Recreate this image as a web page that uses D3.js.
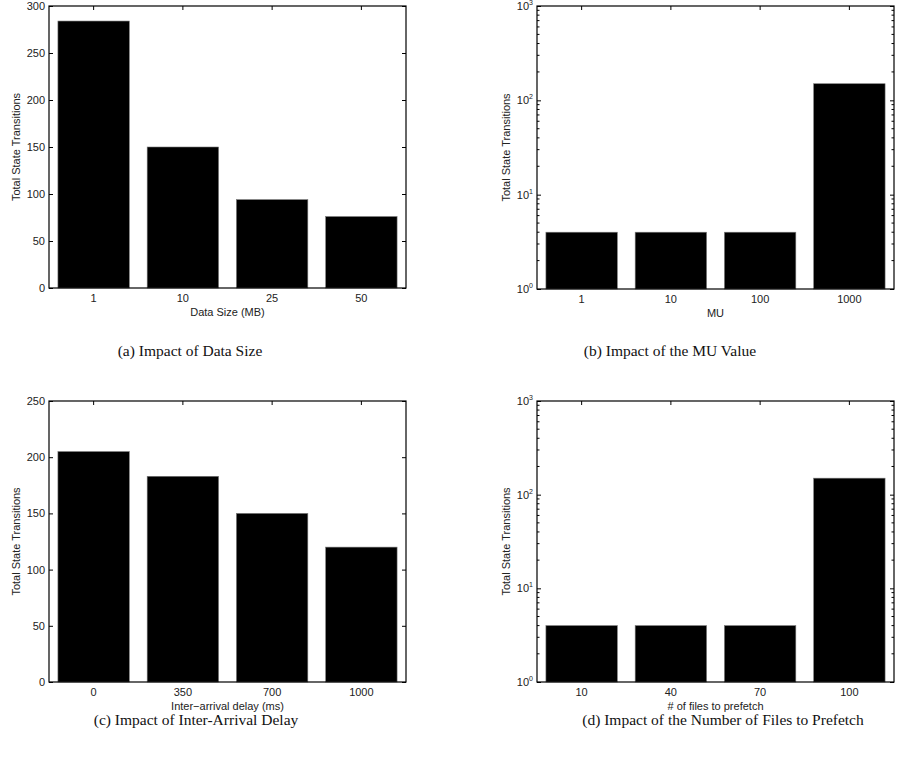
<!DOCTYPE html>
<html>
<head>
<meta charset="utf-8">
<script src="https://cdn.jsdelivr.net/npm/d3@7"></script>
<style>
  body { margin: 0; background: #fff; }
  svg { display: block; }
  .lbl { font-family: "Liberation Sans", Arial, sans-serif; font-size: 11px; fill: #222; }
  .cap { font-family: "Liberation Serif", "Times New Roman", serif; font-size: 15.5px; fill: #111; }
</style>
</head>
<body>
<svg id="chart" width="902" height="761"></svg>
<script>
// ---- data
const sizeCats = ['1', '10', '25', '50']
const sizeVals = [284, 150, 94, 76]

const muCats = ['1', '10', '100', '1000']
const muVals = [4, 4, 4, 150]

const delayCats = ['0', '350', '700', '1000']
const delayVals = [205, 183, 150, 120]

const fileCats = ['10', '40', '70', '100']
const fileVals = [4, 4, 4, 150]

const linTicksA = [0, 50, 100, 150, 200, 250, 300]
const linTicksC = [0, 50, 100, 150, 200, 250]
const logTicks = [1, 10, 100, 1000]

const panels = [
    {cats: sizeCats, vals: sizeVals, log: false, max: 300, ticks: linTicksA,
     x0: 49, x1: 406, y0: 6, y1: 288, ylabX: 16, xlab: 'Data Size (MB)',
     cap: '(a) Impact of Data Size', capX: 190, capY: 356},
    {cats: muCats, vals: muVals, log: true, max: 1000, ticks: logTicks,
     x0: 537, x1: 894, y0: 6, y1: 289, ylabX: 506, xlab: 'MU',
     cap: '(b) Impact of the MU Value', capX: 670, capY: 356},
    {cats: delayCats, vals: delayVals, log: false, max: 250, ticks: linTicksC,
     x0: 49, x1: 406, y0: 401, y1: 682, ylabX: 16, xlab: 'Inter\u2212arrival delay (ms)',
     cap: '(c) Impact of Inter-Arrival Delay', capX: 196, capY: 725},
    {cats: fileCats, vals: fileVals, log: true, max: 1000, ticks: logTicks,
     x0: 537, x1: 894, y0: 401, y1: 682, ylabX: 506, xlab: '# of files to prefetch',
     cap: '(d) Impact of the Number of Files to Prefetch', capX: 723, capY: 725}
]

const svg = d3.select('#chart')

panels.forEach(p => drawPanel(p))

function drawPanel(p) {
    const g = svg.append('g')

    const x = d3.scaleBand()
        .domain(p.cats)
        .range([p.x0, p.x1])
        .paddingInner(0.2)
        .paddingOuter(0.1)

    let y
    if (p.log) {
        y = d3.scaleLog().domain([1, p.max]).range([p.y1, p.y0])
    } else {
        y = d3.scaleLinear().domain([0, p.max]).range([p.y1, p.y0])
    }
    const base = p.log ? 1 : 0

    // bars
    g.selectAll('rect.bar')
        .data(p.vals)
        .enter()
        .append('rect')
        .attr('class', 'bar')
        .attr('x', (d, i) => x(p.cats[i]))
        .attr('width', x.bandwidth())
        .attr('y', d => y(d))
        .attr('height', d => y(base) - y(d))
        .attr('fill', '#000')
        .attr('stroke', '#777')
        .attr('stroke-width', 0.6)

    // minor ticks for log axes (2..9 per decade)
    let minors = []
    if (p.log) {
        for (let e = 1; e < p.max; e *= 10)
            for (let k = 2; k < 10; k++) minors.push(e * k)
    }

    // left / right axes, ticks pointing in
    const left = g.append('g')
        .attr('transform', `translate(${p.x0},0)`)
        .call(d3.axisLeft(y).tickValues(p.ticks).tickSize(-4).tickFormat(''))
    left.select('.domain').remove()

    const right = g.append('g')
        .attr('transform', `translate(${p.x1},0)`)
        .call(d3.axisRight(y).tickValues(p.ticks).tickSize(-4).tickFormat(''))
    right.select('.domain').remove()

    if (p.log) {
        [p.x0, p.x1].forEach((xx, side) => {
            g.selectAll(null)
                .data(minors)
                .enter()
                .append('line')
                .attr('x1', xx)
                .attr('x2', side ? xx - 2.5 : xx + 2.5)
                .attr('y1', d => y(d))
                .attr('y2', d => y(d))
                .attr('stroke', '#000')
                .attr('stroke-width', 1)
        })
    }

    // y tick labels
    const yl = g.append('g')
    p.ticks.forEach(t => {
        if (p.log) {
            const txt = yl.append('text')
                .attr('class', 'lbl')
                .attr('x', p.x0 - 4)
                .attr('y', y(t) + 4)
                .attr('text-anchor', 'end')
            txt.append('tspan').text('10')
            txt.append('tspan')
                .attr('dy', -5)
                .style('font-size', '7px')
                .text(Math.round(Math.log10(t)))
        } else {
            yl.append('text')
                .attr('class', 'lbl')
                .attr('x', p.x0 - 4)
                .attr('y', y(t) + 4)
                .attr('text-anchor', 'end')
                .text(t)
        }
    })

    // top ticks at category centres
    const top = g.append('g')
        .attr('transform', `translate(0,${p.y0})`)
        .call(d3.axisTop(x).tickSize(-4).tickFormat(''))
    top.select('.domain').remove()

    // bottom tick labels
    g.selectAll('text.xt')
        .data(p.cats)
        .enter()
        .append('text')
        .attr('class', 'lbl xt')
        .attr('x', d => x(d) + x.bandwidth() / 2)
        .attr('y', p.y1 + 14)
        .attr('text-anchor', 'middle')
        .text(d => d)

    // box
    g.append('rect')
        .attr('x', p.x0)
        .attr('y', p.y0)
        .attr('width', p.x1 - p.x0)
        .attr('height', p.y1 - p.y0)
        .attr('fill', 'none')
        .attr('stroke', '#000')
        .attr('stroke-width', 1.2)

    g.selectAll('.tick line').attr('stroke', '#000')

    // axis labels
    g.append('text')
        .attr('class', 'lbl')
        .attr('x', (p.x0 + p.x1) / 2)
        .attr('y', p.y1 + 28)
        .attr('text-anchor', 'middle')
        .text(p.xlab)

    g.append('text')
        .attr('class', 'lbl')
        .attr('transform', `translate(${p.ylabX + 4},${(p.y0 + p.y1) / 2}) rotate(-90)`)
        .attr('text-anchor', 'middle')
        .text('Total State Transitions')

    // caption
    g.append('text')
        .attr('class', 'cap')
        .attr('x', p.capX)
        .attr('y', p.capY)
        .attr('text-anchor', 'middle')
        .text(p.cap)
}
</script>
</body>
</html>
